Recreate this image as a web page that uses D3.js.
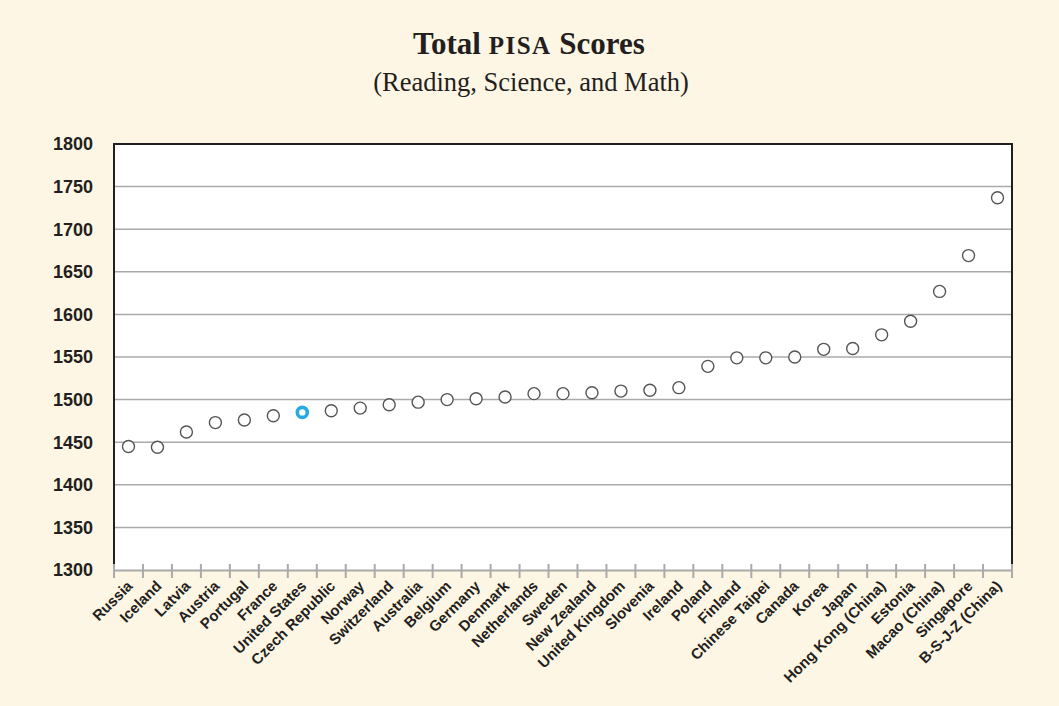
<!DOCTYPE html>
<html>
<head>
<meta charset="utf-8">
<script src="https://cdn.jsdelivr.net/npm/d3@7"></script>
<style>
    body { margin: 0; background: #fef6e4; }
    .title { font-family: "Liberation Serif", "DejaVu Serif", serif; fill: #231f20; }
    .y-label { font-family: "Liberation Sans", Arial, sans-serif; font-weight: bold; font-size: 18px; fill: #231f20; }
    .x-label { font-family: "Liberation Sans Narrow", "Liberation Sans", Arial, sans-serif; font-weight: bold; font-size: 15px; fill: #231f20; }
</style>
</head>
<body>
<div id="chart"></div>
<script>
// data
const countries = ["Russia", "Iceland", "Latvia", "Austria", "Portugal", "France", "United States",
    "Czech Republic", "Norway", "Switzerland", "Australia", "Belgium", "Germany", "Denmark",
    "Netherlands", "Sweden", "New Zealand", "United Kingdom", "Slovenia", "Ireland", "Poland",
    "Finland", "Chinese Taipei", "Canada", "Korea", "Japan", "Hong Kong (China)", "Estonia",
    "Macao (China)", "Singapore", "B-S-J-Z (China)"];
const scores = [1445, 1444, 1462, 1473, 1476, 1481, 1485,
    1487, 1490, 1494, 1497, 1500, 1501, 1503,
    1507, 1507, 1508, 1510, 1511, 1514, 1539,
    1549, 1549, 1550, 1559, 1560, 1576, 1592,
    1627, 1669, 1737];
const highlight = "United States";
const yTicks = [1300, 1350, 1400, 1450, 1500, 1550, 1600, 1650, 1700, 1750, 1800];

class DotPlot {
    constructor(_config = {}) {
        this.config = {
            parentElement: _config.parentElement,
            containerWidth: 1059,
            containerHeight: 706,
            margin: { top: 144, right: 47, bottom: 136, left: 114 }
        };
        this.data = countries.map((c, i) => ({ country: c, score: scores[i] }));
        this.initVis();
    }

    initVis() {
        let vis = this;
        let { parentElement, containerWidth, containerHeight, margin } = vis.config;

        vis.svg = d3.select(parentElement)
            .append("svg")
            .attr("width", containerWidth)
            .attr("height", containerHeight);

        vis.svg.append("rect")
            .attr("width", containerWidth)
            .attr("height", containerHeight)
            .attr("fill", "#fef6e4");

        // titles
        let title = vis.svg.append("text")
            .attr("class", "title")
            .attr("x", 529)
            .attr("y", 54)
            .attr("text-anchor", "middle")
            .attr("font-size", 31)
            .attr("font-weight", "bold");
        title.append("tspan").text("Total ");
        title.append("tspan").attr("font-size", 25).attr("letter-spacing", 1.5).text("PISA");
        title.append("tspan").text(" Scores");

        vis.svg.append("text")
            .attr("class", "title")
            .attr("x", 531)
            .attr("y", 91)
            .attr("text-anchor", "middle")
            .attr("font-size", 26.5)
            .text("(Reading, Science, and Math)");

        // scales
        vis.x = d3.scaleBand()
            .domain(countries)
            .range([margin.left, containerWidth - margin.right]);

        vis.y = d3.scaleLinear()
            .domain([1300, 1800])
            .range([containerHeight - margin.bottom, margin.top]);

        vis.renderVis();
    }

    renderVis() {
        let vis = this;
        let { data } = vis;
        let { containerWidth, containerHeight, margin } = vis.config;
        let x0 = margin.left, x1 = containerWidth - margin.right;
        let y0 = containerHeight - margin.bottom;

        // plot background
        vis.svg.append("rect")
            .attr("x", x0)
            .attr("y", margin.top)
            .attr("width", x1 - x0)
            .attr("height", y0 - margin.top)
            .attr("fill", "#fff");

        // gridlines
        vis.svg.append("g")
            .selectAll("line")
            .data(yTicks.filter(d => d > 1300 && d < 1800))
            .join("line")
            .attr("x1", x0)
            .attr("x2", x1)
            .attr("y1", d => vis.y(d))
            .attr("y2", d => vis.y(d))
            .attr("stroke", "#aaa")
            .attr("stroke-width", 1.5);

        // frame: top, left, right dark
        vis.svg.append("path")
            .attr("d", `M${x0},${y0 - 6}V${margin.top}H${x1}V${y0 - 6}`)
            .attr("fill", "none")
            .attr("stroke", "#231f20")
            .attr("stroke-width", 2);

        // x axis line and ticks
        vis.svg.append("line")
            .attr("x1", x0)
            .attr("x2", x1)
            .attr("y1", y0 + 0.5)
            .attr("y2", y0 + 0.5)
            .attr("stroke", "#aaa")
            .attr("stroke-width", 2);

        let bounds = countries.map(c => vis.x(c)).concat([x1]);
        vis.svg.append("g")
            .selectAll("line")
            .data(bounds)
            .join("line")
            .attr("x1", d => d)
            .attr("x2", d => d)
            .attr("y1", y0 - 6)
            .attr("y2", y0 + 8)
            .attr("stroke", "#aaa")
            .attr("stroke-width", 2);

        // y labels
        vis.svg.append("g")
            .selectAll("text")
            .data(yTicks)
            .join("text")
            .attr("class", "y-label")
            .attr("x", x0 - 21)
            .attr("y", d => vis.y(d))
            .attr("dy", "0.36em")
            .attr("text-anchor", "end")
            .text(d => d);

        // x labels
        vis.svg.append("g")
            .selectAll("text")
            .data(countries)
            .join("text")
            .attr("class", "x-label")
            .attr("text-anchor", "end")
            .attr("transform", d => `translate(${vis.x(d) + vis.x.bandwidth() / 2 + 5},${y0 + 17}) rotate(-45)`)
            .text(d => d);

        // points
        vis.svg.append("g")
            .selectAll("circle")
            .data(data)
            .join("circle")
            .attr("cx", d => vis.x(d.country) + vis.x.bandwidth() / 2)
            .attr("cy", d => vis.y(d.score))
            .attr("r", d => d.country === highlight ? 5 : 6)
            .attr("fill", "#fff")
            .attr("stroke", d => d.country === highlight ? "#27a9e1" : "#555")
            .attr("stroke-width", d => d.country === highlight ? 3.6 : 1.4);
    }
}

new DotPlot({ parentElement: "#chart" });
</script>
</body>
</html>
